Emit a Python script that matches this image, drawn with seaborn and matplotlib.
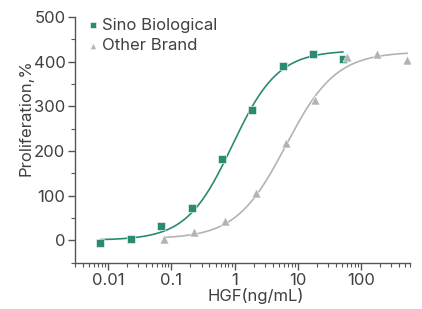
import numpy as np
import matplotlib
matplotlib.use('Agg')
import matplotlib.pyplot as plt
import matplotlib.ticker as mticker
import seaborn as sns

# ── Data ──────────────────────────────────────────────────────────────
sino_conc = [0.0075, 0.023, 0.069, 0.21, 0.63, 1.9, 5.8, 17.5, 52]
sino_prolif = [-7, 2, 31, 72, 181, 291, 391, 417, 405]

other_conc = [0.077, 0.23, 0.71, 2.17, 6.5, 19, 59, 178, 541]
other_prolif = [2, 18, 42, 105, 217, 315, 411, 416, 403]

# 4PL fit parameters (bottom, top, EC50, hill) estimated from the curves
sino_fit = (0, 425, 0.92, 1.2)
other_fit = (3, 422, 6.5, 1.1)

GREEN = '#2b8a72'
GREY = '#b3b3b3'
TEXT = '#404040'
AXIS = '#555555'


def four_pl(x, bottom, top, ec50, hill):
    return bottom + (top - bottom) / (1 + (ec50 / x) ** hill)


sns.set_style('ticks')
plt.rcParams['font.family'] = ['Inter', 'DejaVu Sans']
plt.rcParams['text.color'] = TEXT
plt.rcParams['axes.labelcolor'] = TEXT
plt.rcParams['xtick.color'] = AXIS
plt.rcParams['ytick.color'] = AXIS
plt.rcParams['xtick.labelcolor'] = TEXT
plt.rcParams['ytick.labelcolor'] = TEXT

fig = plt.figure(figsize=(4.22, 3.09), dpi=100)
ax = fig.add_axes([0.178, 0.149, 0.794, 0.796])

# fitted curves
xs = np.logspace(np.log10(sino_conc[0]), np.log10(sino_conc[-1]), 200)
sns.lineplot(x=xs, y=four_pl(xs, *sino_fit), color=GREEN, lw=1.2, ax=ax)
xo = np.logspace(np.log10(other_conc[0]), np.log10(other_conc[-1]), 200)
sns.lineplot(x=xo, y=four_pl(xo, *other_fit), color=GREY, lw=1.2, ax=ax)

# points
sns.scatterplot(x=sino_conc, y=sino_prolif, marker='s', s=28, color=GREEN,
                edgecolor='white', linewidth=0.4, label='Sino Biological',
                ax=ax, zorder=3)
sns.scatterplot(x=other_conc, y=other_prolif, marker='^', s=42, color=GREY,
                edgecolor='white', linewidth=0.4, label='Other Brand',
                ax=ax, zorder=3)

ax.set_xscale('log')
ax.set_xlim(0.003, 600)
ax.set_ylim(-51, 500)
ax.set_yticks([0, 100, 200, 300, 400, 500])
ax.yaxis.set_minor_locator(mticker.MultipleLocator(50))
ax.set_xticks([0.01, 0.1, 1, 10, 100])
ax.set_xticklabels(['0.01', '0.1', '1', '10', '100'])
ax.xaxis.set_minor_locator(mticker.LogLocator(base=10, subs=np.arange(2, 10)))
ax.xaxis.set_minor_formatter(mticker.NullFormatter())

ax.tick_params(axis='both', which='major', labelsize=12, length=5,
               width=1, pad=2)
ax.tick_params(axis='both', which='minor', length=3, width=0.8)
for side in ['left', 'bottom']:
    ax.spines[side].set_color(AXIS)
    ax.spines[side].set_linewidth(1)
sns.despine(ax=ax)

ax.set_ylabel('Proliferation,%', fontsize=12)
ax.yaxis.set_label_coords(-0.125, 0.59)
ax.set_xlabel('HGF(ng/mL)', fontsize=12)
ax.xaxis.set_label_coords(0.54, -0.1)

leg = ax.legend(loc='upper left', bbox_to_anchor=(-0.005, 1.045), frameon=False,
                fontsize=12, handletextpad=0.0, borderaxespad=0.3,
                labelspacing=0.35, handlelength=1.0, markerscale=0.7)
for t in leg.get_texts():
    t.set_color(TEXT)

fig.savefig('out.png', dpi=100)
